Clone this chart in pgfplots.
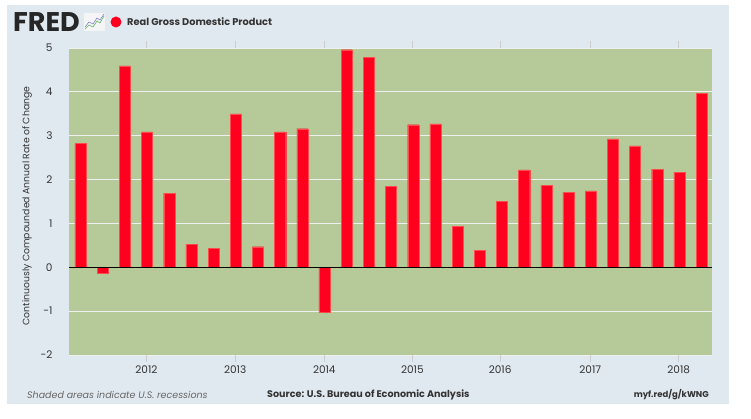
\documentclass[border=0pt]{standalone}
\usepackage{fontspec}
\setmainfont{Poppins}
\usepackage{pgfplots}
\usepackage{pgfplotstable}
\pgfplotsset{compat=1.18}
\definecolor{panel}{RGB}{225,233,240}
\definecolor{plotbg}{RGB}{181,202,152}
\definecolor{fredred}{RGB}{255,0,30}
\definecolor{txt}{RGB}{51,51,51}
\pgfplotstableread{
idx val
0 2.82
1 -0.14
2 4.59
3 3.09
4 1.69
5 0.52
6 0.43
7 3.50
8 0.47
9 3.09
10 3.16
11 -1.03
12 4.96
13 4.79
14 1.85
15 3.25
16 3.27
17 0.94
18 0.38
19 1.51
20 2.22
21 1.87
22 1.71
23 1.74
24 2.93
25 2.77
26 2.24
27 2.17
28 3.96
}\gdp
\begin{document}
\begin{tikzpicture}[x=1pt,y=1pt]
\fill[white] (0,0) rectangle (751,419);
\fill[panel] (7,15) rectangle (729,414);
% logo
\node[anchor=west, inner sep=0pt, text=black!85, font=\fontsize{27}{27}\selectfont\bfseries] at (13,397) {FRED};
\fill[white!92!gray] (84,388) rectangle (105,406);
\draw[green!50!black!60, line width=0.6pt] (85,390) -- (89,394) -- (93,392) -- (97,398) -- (100,396) -- (104,403);
\draw[blue!40!gray!70, line width=0.6pt] (85,392) -- (89,397) -- (93,395) -- (97,401) -- (100,399) -- (104,405);
\fill[fredred] (116,397) circle (5.5);
\node[anchor=west, inner sep=0pt, text=txt, font=\fontsize{9.8}{11}\selectfont\bfseries] at (127,397) {Real Gross Domestic Product};
% footer
\node[anchor=west, inner sep=0pt, text=gray!80!black, font=\fontsize{9.5}{10}\selectfont\itshape] at (27,24) {Shaded areas indicate U.S. recessions};
\node[anchor=west, inner sep=0pt, text=txt, font=\fontsize{9.6}{10}\selectfont\bfseries] at (267,24) {Source: U.S. Bureau of Economic Analysis};
\node[anchor=east, inner sep=0pt, text=txt, font=\fontsize{8.5}{9}\selectfont\bfseries] at (709,24) {myf.red/g/kWNG};
\begin{axis}[
  at={(69pt,64pt)}, anchor=south west,
  width=643pt, height=307pt, scale only axis,
  xmin=-0.52, xmax=28.47, ymin=-2, ymax=5,
  axis background/.style={fill=plotbg},
  axis line style={draw=none},
  ytick={-2,-1,0,1,2,3,4,5},
  xtick={2.97,6.97,10.99,14.96,18.92,22.98,26.97},
  xticklabels={2012,2013,2014,2015,2016,2017,2018},
  tick align=outside,
  major tick length=7pt,
  xtick style={draw=gray!40, line width=0.6pt},
  ytick style={draw=none},
  ymajorgrids,
  grid style={draw=white!88!gray, line width=0.8pt},
  ticklabel style={font=\fontsize{10.5}{11}\selectfont, text=txt},
  yticklabel style={xshift=-6pt},
  xticklabel style={yshift=0pt},
  /pgf/number format/assume math mode=true,
]
\addplot[ybar, bar width=0.5, fill=fredred, draw=red!70!white, line width=0.3pt] table[x=idx,y=val]{\gdp};
\draw[black, line width=1.2pt] (axis cs:-0.52,0) -- (axis cs:28.47,0);
\end{axis}
\node[rotate=90, text=txt, font=\fontsize{9.3}{10}\selectfont] at (27,213) {Continuously Compounded Annual Rate of Change};
\end{tikzpicture}
\end{document}
